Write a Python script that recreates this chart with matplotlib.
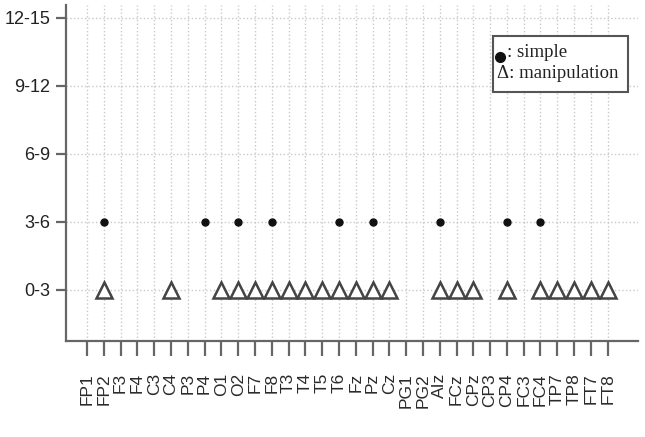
import matplotlib

matplotlib.use("Agg")
import matplotlib.pyplot as plt
from matplotlib.patches import Rectangle

# electrode channels on the x axis
channels = ["FP1", "FP2", "F3", "F4", "C3", "C4", "P3", "P4", "O1", "O2",
            "F7", "F8", "T3", "T4", "T5", "T6", "Fz", "Pz", "Cz", "PG1",
            "PG2", "AIz", "FCz", "CPz", "CP3", "CP4", "FC3", "FC4", "TP7",
            "TP8", "FT7", "FT8"]
levels = ["0-3", "3-6", "6-9", "9-12", "12-15"]

simple_ch = ["FP2", "P4", "O2", "F8", "T6", "Pz", "AIz", "CP4", "FC4"]
simple_bin = ["3-6", "3-6", "3-6", "3-6", "3-6", "3-6", "3-6", "3-6", "3-6"]

manip_ch = ["FP2", "C4", "O1", "O2", "F7", "F8", "T3", "T4", "T5", "T6",
            "Fz", "Pz", "Cz", "AIz", "FCz", "CPz", "CP4", "FC4", "TP7",
            "TP8", "FT7", "FT8"]
manip_bin = ["0-3", "0-3", "0-3", "0-3", "0-3", "0-3", "0-3", "0-3", "0-3",
             "0-3", "0-3", "0-3", "0-3", "0-3", "0-3", "0-3", "0-3", "0-3",
             "0-3", "0-3", "0-3", "0-3"]

sans = ["Liberation Sans", "DejaVu Sans"]
serif = ["Liberation Serif", "DejaVu Serif"]
axis_col = "#666666"

fig = plt.figure(figsize=(6.45, 4.37), dpi=100)
ax = fig.add_axes([0.1023, 0.2197, 0.8867, 0.7689])

xpos = {c: i for i, c in enumerate(channels)}
ypos = {l: i for i, l in enumerate(levels)}

ax.plot([xpos[c] for c in manip_ch], [ypos[b] for b in manip_bin],
        linestyle="none", marker="^", markersize=11.5, markerfacecolor="white",
        markeredgecolor="#444444", markeredgewidth=1.8, zorder=3)
ax.plot([xpos[c] for c in simple_ch], [ypos[b] for b in simple_bin],
        linestyle="none", marker="o", markersize=5, color="#111111", zorder=4)

ax.set_xlim(-1.25, 32.8)
ax.set_ylim(-0.75, 4.19)
ax.set_xticks(range(len(channels)))
ax.set_xticklabels(channels, rotation=90, fontsize=12.5, family=sans,
                   color="#2a2a2a")
ax.set_yticks(range(len(levels)))
ax.set_yticklabels(levels, fontsize=13, family=sans, color="#222222")

ax.grid(True, color="#c8c8c8", linestyle=":", linewidth=1.0)
ax.set_axisbelow(True)
for s in ("top", "right"):
    ax.spines[s].set_visible(False)
for s in ("left", "bottom"):
    ax.spines[s].set_color(axis_col)
    ax.spines[s].set_linewidth(1.6)
ax.tick_params(axis="x", length=11, width=1.6, color=axis_col, pad=12)
ax.tick_params(axis="y", length=7.5, width=1.6, color=axis_col, pad=4)

# legend drawn as a box with text, like the original
ax.add_patch(Rectangle((0.7465, 0.741), 0.236, 0.1667, transform=ax.transAxes,
                       facecolor="white", edgecolor="#555555", linewidth=1.5,
                       zorder=5, clip_on=False))
ax.plot([0.7585], [0.845], transform=ax.transAxes, marker="o", markersize=7,
        color="#111111", linestyle="none", zorder=6, clip_on=False)
ax.text(0.7705, 0.859, ": simple", transform=ax.transAxes, ha="left",
        va="center", fontsize=13.5, family=serif, color="#222222", zorder=6)
ax.text(0.7535, 0.797, "Δ: manipulation", transform=ax.transAxes, ha="left",
        va="center", fontsize=13.5, family=serif, color="#222222", zorder=6)

fig.savefig("out.png", dpi=100)
